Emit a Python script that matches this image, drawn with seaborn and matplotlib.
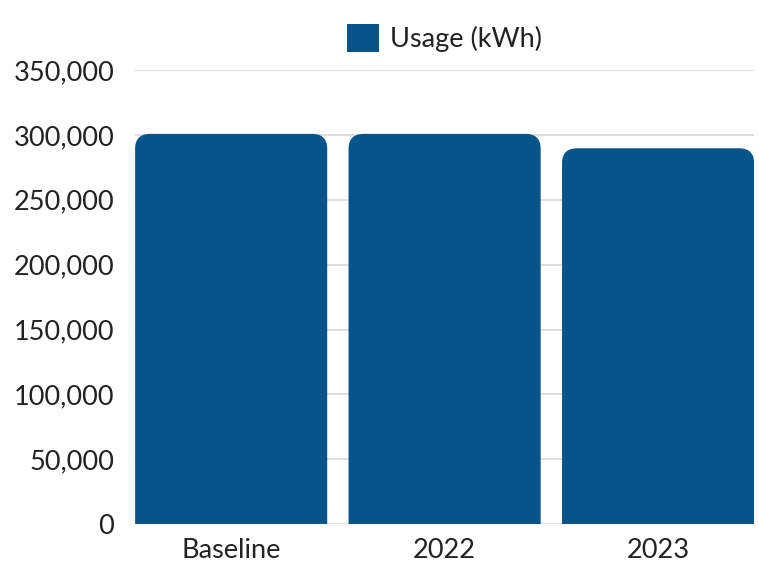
import matplotlib
matplotlib.use("Agg")
import matplotlib.pyplot as plt
from matplotlib.patches import FancyBboxPatch, Patch
from matplotlib.ticker import FuncFormatter
import seaborn as sns
import pandas as pd

categories = ["Baseline", "2022", "2023"]
usage_kwh = [300800, 300800, 289700]
series_name = "Usage (kWh)"
y_ticks = [0, 50000, 100000, 150000, 200000, 250000, 300000, 350000]

bar_color = "#07548A"
text_color = "#222222"
grid_color = "#d9d9d9"

sns.set_theme(style="white")
plt.rcParams["font.family"] = ["Lato", "DejaVu Sans"]

df = pd.DataFrame({"category": categories, "usage": usage_kwh})

fig = plt.figure(figsize=(7.59, 5.66), dpi=100)
ax = fig.add_axes([0.178, 0.0737, 0.8156, 0.8026])

bar_width = 0.9
sns.barplot(data=df, x="category", y="usage", color=bar_color,
            width=bar_width, saturation=1, ax=ax, zorder=2)

ax.set_xlim(-bar_width / 2, len(categories) - 1 + bar_width / 2)
ax.set_ylim(0, 350000)
ax.set_yticks(y_ticks)
ax.yaxis.set_major_formatter(FuncFormatter(lambda v, _: f"{int(v):,}"))
ax.grid(axis="y", color=grid_color, linewidth=1.2, zorder=0)
ax.set_axisbelow(True)
for s in ax.spines.values():
    s.set_visible(False)
ax.set_xlabel("")
ax.set_ylabel("")
ax.tick_params(axis="y", length=0, pad=15, labelsize=19.5, labelcolor=text_color)
ax.tick_params(axis="x", length=0, pad=10, labelsize=19.5, labelcolor=text_color)

# Replace square bars with bars rounded at the top
fig.canvas.draw()
inv = ax.transData.inverted()
p0 = inv.transform((0, 0))
p1 = inv.transform((1, 1))
x_per_px = p1[0] - p0[0]
y_per_px = p1[1] - p0[1]
aspect = y_per_px / x_per_px
radius_px = 15
r_x = radius_px * x_per_px
for bar in list(ax.patches):
    x, w, h = bar.get_x(), bar.get_width(), bar.get_height()
    extra = radius_px * 2 * y_per_px
    rounded = FancyBboxPatch(
        (x, -extra), w, h + extra,
        boxstyle=f"round,pad=0,rounding_size={r_x}",
        mutation_aspect=aspect,
        facecolor=bar_color, edgecolor="none", zorder=2,
        clip_on=True)
    bar.remove()
    ax.add_patch(rounded)
    rounded.set_clip_path(ax.patch)

handle = Patch(facecolor=bar_color, edgecolor="none", label=series_name)
ax.legend(handles=[handle], loc="lower center", bbox_to_anchor=(0.5, 1.0),
          frameon=False, fontsize=19.5, handlelength=1.2, handleheight=1.2,
          handletextpad=0.4, borderaxespad=0.25, labelcolor=text_color)

fig.savefig("out.png", dpi=100)
